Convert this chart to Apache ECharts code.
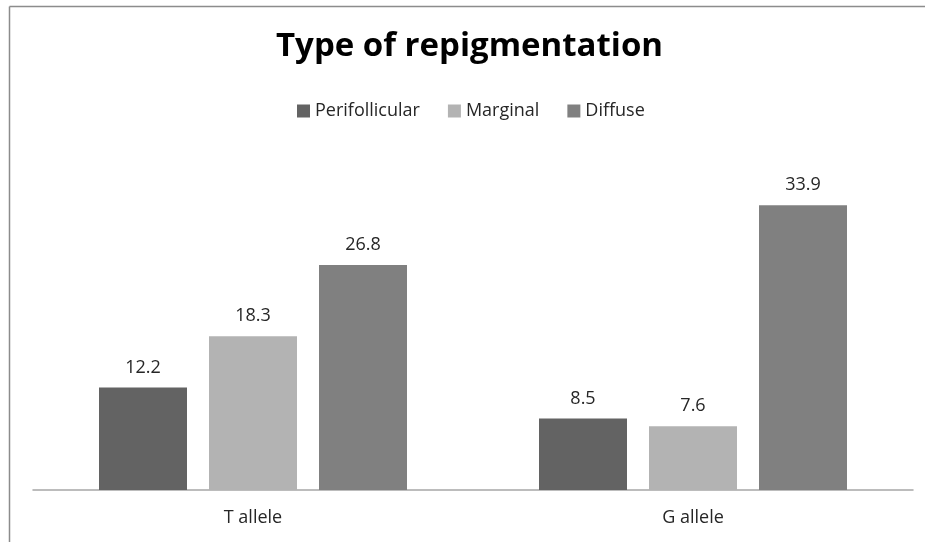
<!DOCTYPE html>
<html>
<head>
<meta charset="utf-8">
<script src="https://cdn.jsdelivr.net/npm/echarts@6/dist/echarts.min.js"></script>
<style>
  html, body { margin: 0; padding: 0; background: #fff; overflow: hidden; }
  #chart { width: 925px; height: 542px; }
</style>
</head>
<body>
<div id="chart"></div>
<script>
const categories = ['T allele', 'G allele'];
const seriesNames = ['Perifollicular', 'Marginal', 'Diffuse'];
const perifollicular = [12.2, 8.5];
const marginal = [18.3, 7.6];
const diffuse = [26.8, 33.9];
const colors = ['#636363', '#b3b3b3', '#808080'];

const FONT = '"Open Sans", "Noto Sans", sans-serif';

const chart = echarts.init(document.getElementById('chart'), null, {renderer: 'canvas'});

const labelStyle = {
  show: true,
  position: 'top',
  distance: 11,
  color: '#262626',
  fontFamily: FONT,
  fontSize: 18,
};

chart.setOption({
  animation: false,
  backgroundColor: '#fff',
  // outer chart frame (only top and left edges are visible)
  graphic: [
    {type: 'line', shape: {x1: 9.5, y1: 6.5, x2: 925, y2: 6.5},
     style: {stroke: '#8c8c8c', lineWidth: 1.5}, silent: true},
    {type: 'line', shape: {x1: 9.5, y1: 6.5, x2: 9.5, y2: 542},
     style: {stroke: '#8c8c8c', lineWidth: 1.5}, silent: true},
  ],
  title: {
    text: 'Type of repigmentation',
    left: 271,
    top: 25,
    textStyle: {
      fontFamily: FONT,
      fontWeight: 'bold',
      fontSize: 33,
      color: '#000',
    },
  },
  legend: {
    top: 97,
    left: 292,
    itemWidth: 13,
    itemHeight: 13,
    itemGap: 28,
    icon: 'rect',
    textStyle: {fontFamily: FONT, fontSize: 18, color: '#262626'},
    data: seriesNames,
  },
  grid: {left: 33, right: 12, top: 154, bottom: 52},
  xAxis: {
    type: 'category',
    data: categories,
    axisLine: {lineStyle: {color: '#a6a6a6', width: 1.5}},
    axisTick: {show: false},
    axisLabel: {fontFamily: FONT, fontSize: 18, color: '#262626', margin: 19},
  },
  yAxis: {
    type: 'value',
    min: 0,
    max: 40,
    show: false,
    splitLine: {show: false},
  },
  series: [
    {name: seriesNames[0], type: 'bar', data: perifollicular, barGap: '25%', barCategoryGap: '30%',
     itemStyle: {color: colors[0]}, label: labelStyle},
    {name: seriesNames[1], type: 'bar', data: marginal, barGap: '25%', barCategoryGap: '30%',
     itemStyle: {color: colors[1]}, label: labelStyle},
    {name: seriesNames[2], type: 'bar', data: diffuse, barGap: '25%', barCategoryGap: '30%',
     itemStyle: {color: colors[2]}, label: labelStyle},
  ],
});
</script>
</body>
</html>
